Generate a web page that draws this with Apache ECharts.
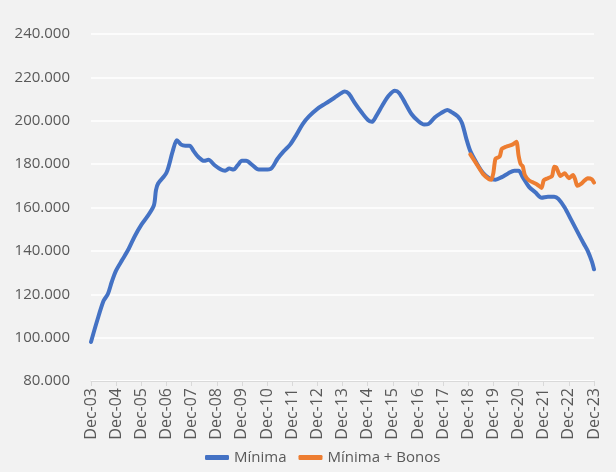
<!DOCTYPE html>
<html lang="es">
<head>
<meta charset="UTF-8">
<title>Mínima vs Mínima + Bonos</title>
<script src="https://cdn.jsdelivr.net/npm/echarts@6/dist/echarts.min.js"></script>
<style>
  html, body { margin: 0; padding: 0; background: #F2F2F2; }
  #main { width: 616px; height: 472px; }
</style>
</head>
<body>
<div id="main"></div>
<script>
// meses desde Dec-03 (0 = Dec-03, 240 = Dec-23); valores en miles
var yearLabels = ['Dec-03','Dec-04','Dec-05','Dec-06','Dec-07','Dec-08','Dec-09','Dec-10','Dec-11','Dec-12',
                  'Dec-13','Dec-14','Dec-15','Dec-16','Dec-17','Dec-18','Dec-19','Dec-20','Dec-21','Dec-22','Dec-23'];

var minimaMonths = [0,3,6,8,10,12,15,18,21,24,27,30,31,32,36,39,41,43,45,47,49,51,54,56,59,62,64,66,68,70,
                    72,74,77,80,83,86,89,92,95,98,101,104,108,112,116,119,121,123,126,129,132,134,136,139,142,145,147,150,153,156,
                    159,161,164,167,170,172,175,177,179,181,184,187,190,193,196,199,202,204,206,209,212,215,218,221,223,226,229,232,235,237,
                    239,240];
var minimaValues = [98,108,117,120,126,131,136,141,147,152,156,161,168,171,176,186,191,189,188.5,188.5,186,183.5,181.5,182,179.5,177.5,177,178,177.5,179.5,
                    181.5,181.5,179.5,177.5,177.5,178,182.5,186,189,193.5,198.5,202,205.5,208,210.5,212.5,213.5,212.5,208,204,200.5,199.5,202,207,211.5,213.8,212.8,208,203,200,
                    198.3,198.5,201.5,203.5,205,204,202,199,192,186,180.5,176,173.5,172.8,174,175.7,177,177,174,169.5,167,164.5,165,165,164,160,154.5,149,143.5,140,
                    135,131.5];

var bonosMonths = [181,184,187,190,191,192,193,195,196,198,201,203,204,205,206,207,209,211,213,215,216,218,220,221,222,224,226,228,230,231,
                   232,234,235,237,239,240];
var bonosValues = [184.5,180,175.5,173,172.8,176,182.5,183.5,187,188,189,190.3,184,180,179,175,172.5,171.5,170.5,169,172.5,173.5,174.5,178.8,178.5,174.5,175.8,173.5,175,173,
                   170,171,172,173.5,173,171.5];

function pairs(xs, ys) {
  return xs.map(function (x, i) { return [x, ys[i]]; });
}

var myChart = echarts.init(document.getElementById('main'));
var font = '"Open Sans", "Noto Sans", sans-serif';

var option = {
  animation: false,
  backgroundColor: '#F2F2F2',
  color: ['#4472C4', '#ED7D31'],
  grid: { left: 91, right: 22, top: 34, bottom: 91 },
  legend: {
    bottom: 2,
    left: 200,
    itemWidth: 24,
    itemHeight: 5,
    itemGap: 12,
    icon: 'roundRect',
    textStyle: { color: '#595959', fontSize: 15, fontFamily: font },
    data: ['Mínima', 'Mínima + Bonos']
  },
  xAxis: {
    type: 'value',
    min: 0,
    max: 240,
    interval: 12,
    splitLine: { show: false },
    axisLine: { lineStyle: { color: '#D9D9D9', width: 1 } },
    axisTick: { show: true, length: 5, lineStyle: { color: '#D9D9D9' } },
    axisLabel: {
      rotate: 90,
      margin: 7,
      color: '#595959',
      fontSize: 16,
      fontFamily: font,
      formatter: function (v) { return yearLabels[v / 12]; }
    }
  },
  yAxis: {
    type: 'value',
    min: 80,
    max: 240,
    interval: 20,
    axisLine: { show: false },
    axisTick: { show: false },
    splitLine: { lineStyle: { color: '#FFFFFF', width: 1.5 } },
    axisLabel: {
      margin: 21,
      color: '#595959',
      fontSize: 15,
      fontFamily: font,
      formatter: function (v) { return v + '.000'; }
    }
  },
  series: [
    {
      name: 'Mínima',
      type: 'line',
      data: pairs(minimaMonths, minimaValues),
      showSymbol: false,
      smooth: 0.3,
      lineStyle: { width: 4, color: '#4472C4', cap: 'round', join: 'round' }
    },
    {
      name: 'Mínima + Bonos',
      type: 'line',
      data: pairs(bonosMonths, bonosValues),
      showSymbol: false,
      smooth: 0.2,
      lineStyle: { width: 4, color: '#ED7D31', cap: 'round', join: 'round' }
    }
  ]
};

myChart.setOption(option);
</script>
</body>
</html>
